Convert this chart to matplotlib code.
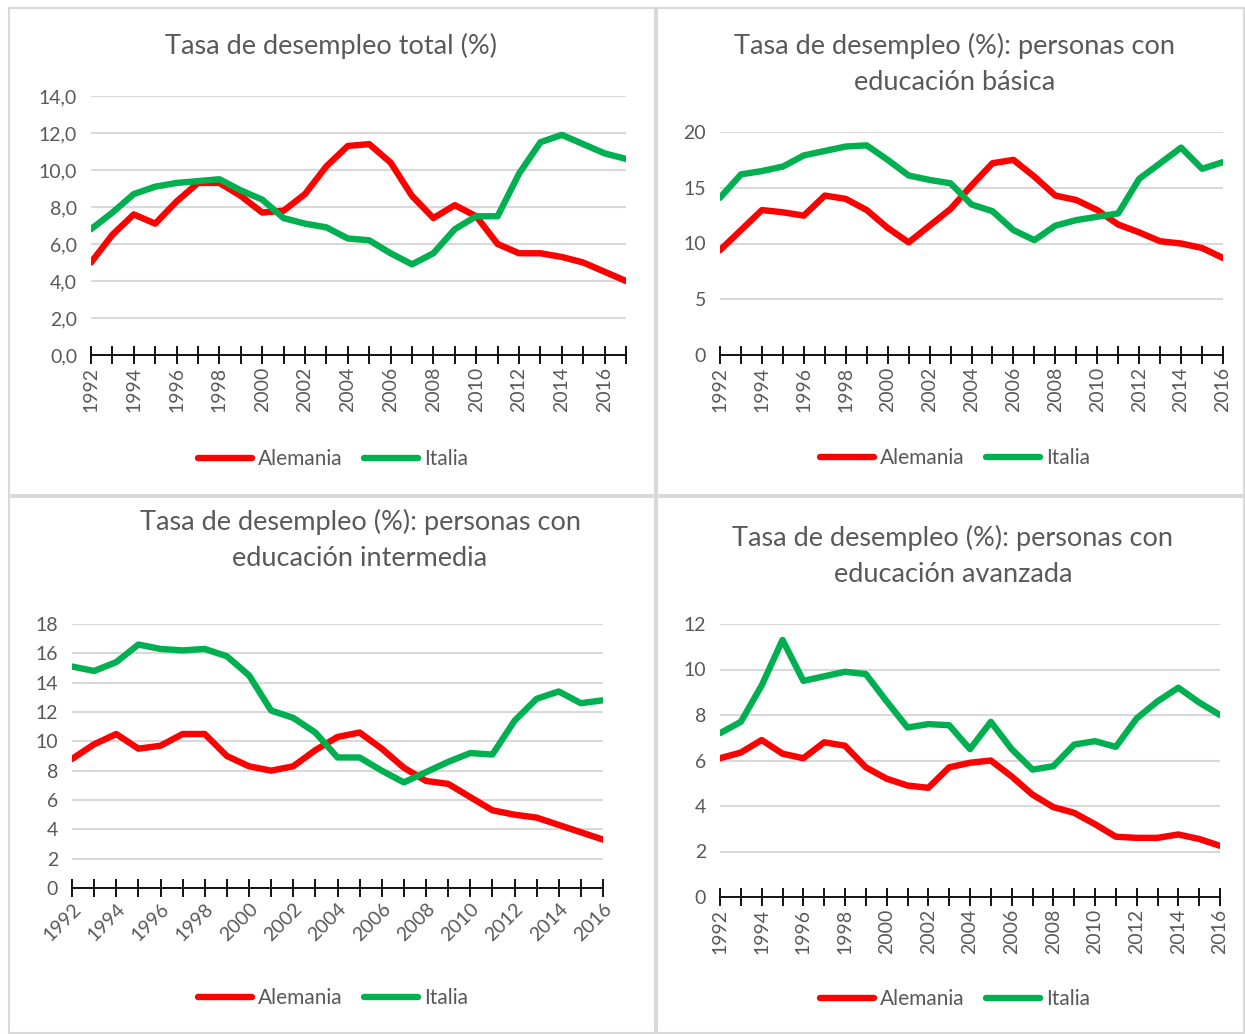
import matplotlib
matplotlib.use("Agg")
import matplotlib.pyplot as plt
from matplotlib.patches import Rectangle

plt.rcParams['font.family'] = ['Lato', 'DejaVu Sans']

# datos
anios_total = list(range(1992, 2018))
anios = list(range(1992, 2017))

total_alemania = [5.0, 6.5, 7.6, 7.1, 8.3, 9.3, 9.3, 8.6, 7.7, 7.8, 8.7, 10.2, 11.3, 11.4,
                  10.4, 8.6, 7.4, 8.1, 7.5, 6.0, 5.5, 5.5, 5.3, 5.0, 4.5, 4.0]
total_italia = [6.8, 7.7, 8.7, 9.1, 9.3, 9.4, 9.5, 8.9, 8.4, 7.4, 7.1, 6.9, 6.3, 6.2,
                5.5, 4.9, 5.5, 6.8, 7.5, 7.5, 9.8, 11.5, 11.9, 11.4, 10.9, 10.6]

basica_alemania = [9.4, 11.2, 13.0, 12.8, 12.5, 14.3, 14.0, 13.0, 11.4, 10.1, 11.6, 13.1, 15.2,
                   17.2, 17.5, 16.0, 14.3, 13.9, 13.0, 11.7, 11.0, 10.2, 10.0, 9.6, 8.7]
basica_italia = [14.1, 16.2, 16.5, 16.9, 17.9, 18.3, 18.7, 18.8, 17.5, 16.1, 15.7, 15.4, 13.5,
                 12.9, 11.2, 10.3, 11.6, 12.1, 12.4, 12.7, 15.8, 17.2, 18.6, 16.7, 17.3]

intermedia_alemania = [8.8, 9.8, 10.5, 9.5, 9.7, 10.5, 10.5, 9.0, 8.3, 8.0, 8.3, 9.4, 10.3,
                       10.6, 9.5, 8.2, 7.3, 7.1, 6.2, 5.3, 5.0, 4.8, 4.3, 3.8, 3.3]
intermedia_italia = [15.1, 14.8, 15.4, 16.6, 16.3, 16.2, 16.3, 15.8, 14.5, 12.1, 11.6, 10.6, 8.9,
                     8.9, 8.0, 7.2, 7.9, 8.6, 9.2, 9.1, 11.4, 12.9, 13.4, 12.6, 12.8]

avanzada_alemania = [6.1, 6.35, 6.9, 6.3, 6.1, 6.8, 6.65, 5.7, 5.2, 4.9, 4.8, 5.7, 5.9,
                     6.0, 5.3, 4.5, 3.95, 3.7, 3.2, 2.65, 2.6, 2.6, 2.75, 2.55, 2.25]
avanzada_italia = [7.2, 7.7, 9.3, 11.3, 9.5, 9.7, 9.9, 9.8, 8.6, 7.45, 7.6, 7.55, 6.5,
                   7.7, 6.5, 5.6, 5.75, 6.7, 6.85, 6.6, 7.85, 8.6, 9.2, 8.55, 8.0]

W, H = 1245, 1034
ROJO = '#FF0000'
VERDE = '#00B050'
GRIS = '#595959'

fig = plt.figure(figsize=(W / 100, H / 100), dpi=100)


def caja(l, t, r, b):
    return [l / W, 1 - b / H, (r - l) / W, (b - t) / H]


# bordes de cada grafico (estilo Excel)
for l, t, r, b in [(9, 8, 655, 495), (657, 8, 1244, 495), (9, 497, 655, 1033), (657, 497, 1244, 1033)]:
    fig.patches.append(Rectangle((l / W, 1 - b / H), (r - l) / W, (b - t) / H,
                                 transform=fig.transFigure, fill=False,
                                 edgecolor='#D9D9D9', linewidth=1.5))


def panel(pos, x, alemania, italia, ymax, ypaso, titulo, tx, ty, leg_x, leg_y,
          decimales=False, rot=90):
    ax = fig.add_axes(caja(*pos))
    ax.plot(x, alemania, color=ROJO, lw=4.6, solid_joinstyle='round',
            solid_capstyle='round', label='Alemania')
    ax.plot(x, italia, color=VERDE, lw=4.6, solid_joinstyle='round',
            solid_capstyle='round', label='Italia')
    ax.set_xlim(x[0], x[-1])
    ax.set_ylim(0, ymax)
    yt = list(range(0, ymax + 1, ypaso))
    ax.set_yticks(yt)
    if decimales:
        ax.set_yticklabels([f"{v:.1f}".replace('.', ',') for v in yt])
    ax.set_xticks(x)
    etiquetas = [str(a) if (a - 1992) % 2 == 0 and a <= 2016 else '' for a in x]
    if rot == 90:
        ax.set_xticklabels(etiquetas, rotation=90, va='top', ha='center')
    else:
        ax.set_xticklabels(etiquetas, rotation=45, ha='right', va='top',
                           rotation_mode='anchor')
    ax.grid(axis='y', color='#D9D9D9', lw=1.5)
    ax.set_axisbelow(True)
    for s in ['top', 'right', 'left']:
        ax.spines[s].set_visible(False)
    ax.spines['bottom'].set_color('black')
    ax.spines['bottom'].set_linewidth(1.3)
    ax.tick_params(axis='y', length=0, labelsize=14, labelcolor=GRIS, pad=10)
    ax.tick_params(axis='x', direction='inout', length=13, width=1.3, color='black',
                   labelsize=14, labelcolor=GRIS, pad=2)
    fig.text(tx / W, 1 - ty / H, titulo, ha='center', va='center', fontsize=19.5,
             color=GRIS, linespacing=1.55)
    fig.legend(handles=ax.get_lines(), loc='center', bbox_to_anchor=(leg_x / W, 1 - leg_y / H),
               ncol=2, frameon=False, fontsize=15, labelcolor=GRIS, handlelength=2.6,
               handletextpad=0.3, columnspacing=1.0)
    return ax


panel((91, 96, 626, 355), anios_total, total_alemania, total_italia, 14, 2,
      'Tasa de desempleo total (%)', 331, 46, 333, 459, decimales=True)
panel((720, 132, 1223, 355), anios, basica_alemania, basica_italia, 20, 5,
      'Tasa de desempleo (%): personas con\neducación básica', 955, 64, 955, 458)
panel((72, 624, 603, 888), anios, intermedia_alemania, intermedia_italia, 18, 2,
      'Tasa de desempleo (%): personas con\neducación intermedia', 360, 540, 333, 998, rot=45)
panel((720, 624, 1220, 897), anios, avanzada_alemania, avanzada_italia, 12, 2,
      'Tasa de desempleo (%): personas con\neducación avanzada', 953, 556, 955, 999)

fig.savefig('out.png', dpi=100, facecolor='white')
